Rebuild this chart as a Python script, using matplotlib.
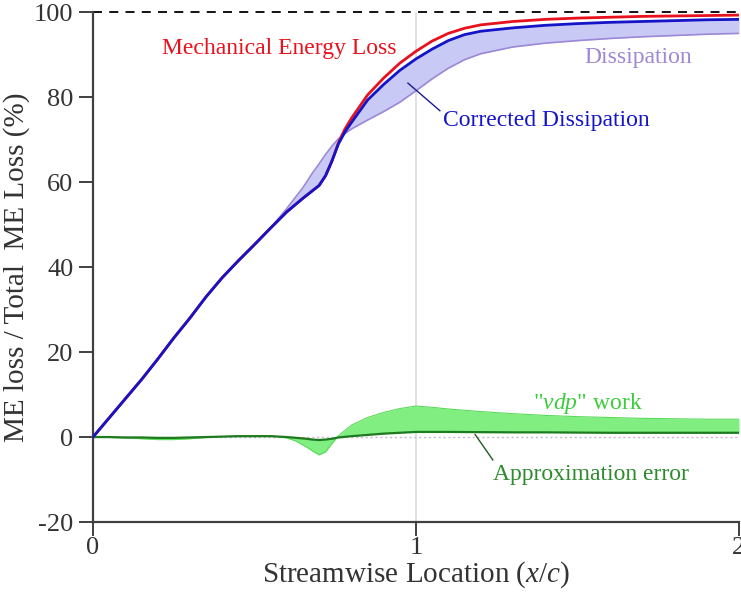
import numpy as np
import matplotlib
matplotlib.use("Agg")
import matplotlib.pyplot as plt

plt.rcParams["font.family"] = ["Liberation Serif", "DejaVu Serif"]
plt.rcParams["mathtext.fontset"] = "custom"
plt.rcParams["mathtext.it"] = "Liberation Serif:italic"
plt.rcParams["mathtext.rm"] = "Liberation Serif"
plt.rcParams["axes.unicode_minus"] = False

# 流れ方向位置 (x/c)
x_loss = [0, 0.05, 0.1, 0.15, 0.2, 0.25, 0.3, 0.35, 0.4, 0.45, 0.5, 0.55, 0.6,
          0.65, 0.68, 0.7, 0.72, 0.74, 0.76, 0.78, 0.8, 0.85, 0.9, 0.95, 1.0,
          1.05, 1.1, 1.15, 1.2, 1.3, 1.4, 1.5, 1.6, 1.7, 1.8, 1.9, 2.0]

# 力学的エネルギー損失 (%)
me_loss = [0, 4.5, 9, 13.5, 18.3, 23.3, 28, 33, 37.5, 41.5, 45.3, 49.2, 53,
           56.2, 58, 59.2, 61.5, 65, 69.3, 72.5, 75, 80.5, 84.5, 88, 90.8,
           93.2, 95, 96.2, 97, 97.8, 98.3, 98.6, 98.8, 99.0, 99.1, 99.2, 99.3]

# 補正後の散逸 (%)
corrected = [0, 4.5, 9, 13.5, 18.3, 23.3, 28, 33, 37.5, 41.5, 45.3, 49.2, 53,
             56.2, 58, 59.2, 61.5, 65, 69, 71.8, 74, 79.3, 83, 86.3, 89,
             91.3, 93.3, 94.7, 95.5, 96.3, 96.9, 97.3, 97.6, 97.8, 98.0, 98.2, 98.3]

# 散逸 (%)
dissipation = [0, 4.5, 9, 13.5, 18.3, 23.3, 28, 33, 37.5, 41.5, 45.3, 49.2, 53.8,
               58.7, 62.2, 64.3, 66.5, 68.5, 70.2, 71.4, 72.5, 74.6, 76.6, 78.8, 81.5,
               84.3, 86.8, 88.8, 90.2, 91.8, 92.7, 93.3, 93.8, 94.2, 94.5, 94.8, 95.0]

# vdp仕事と近似誤差
x_vdp = [0, 0.05, 0.1, 0.15, 0.2, 0.25, 0.3, 0.35, 0.4, 0.45, 0.5, 0.55, 0.6,
         0.63, 0.66, 0.68, 0.7, 0.72, 0.74, 0.76, 0.8, 0.85, 0.9, 0.95, 1.0,
         1.05, 1.1, 1.2, 1.3, 1.4, 1.5, 1.6, 1.7, 1.8, 1.9, 2.0]
vdp_work = [0, -0.1, -0.2, -0.4, -0.6, -0.6, -0.4, -0.1, 0.1, 0.2, 0.3, 0.3, -0.2,
            -1.0, -2.3, -3.3, -4.2, -3.5, -1.5, 0.3, 2.8, 4.6, 5.8, 6.7, 7.3,
            7.0, 6.6, 6.0, 5.5, 5.1, 4.8, 4.6, 4.4, 4.3, 4.2, 4.2]
approx_err = [0, 0, -0.1, -0.1, -0.2, -0.2, -0.1, 0, 0.1, 0.2, 0.2, 0.2, 0.0,
              -0.2, -0.4, -0.6, -0.7, -0.6, -0.4, -0.1, 0.2, 0.5, 0.8, 1.0, 1.2,
              1.2, 1.2, 1.15, 1.1, 1.1, 1.05, 1.0, 1.0, 1.0, 1.0, 1.0]

fig = plt.figure(figsize=(7.41, 6.07), dpi=100)
ax = fig.add_axes([0.1255, 0.140, 0.8718, 0.840])

# 補助線
ax.axvline(1.0, color="#dcdcdc", lw=1.2, zorder=0)
ax.axhline(0, color="#c8b8c8", lw=1.0, ls=(0, (1.5, 2)), zorder=0)
ax.axhline(100, color="black", lw=1.3, ls=(0, (5, 4)), zorder=1, clip_on=False)

# 散逸の帯
ax.fill_between(x_loss, corrected, dissipation, color="#c9c9f5", lw=0, zorder=2)
ax.plot(x_loss, dissipation, color="#9c88d6", lw=1.2, zorder=3)
ax.plot(x_loss, me_loss, color="#e8121e", lw=2.0, zorder=4)
ax.plot(x_loss, corrected, color="#1414c8", lw=2.0, zorder=5)

# vdp仕事の帯
ax.fill_between(x_vdp, approx_err, vdp_work, color="#80ee80", lw=0, zorder=2)
ax.plot(x_vdp, vdp_work, color="#5ada5a", lw=0.8, zorder=3)
ax.plot(x_vdp, approx_err, color="#1e7a1e", lw=1.6, zorder=4)

# ラベル
fs = 17
ax.text(0.215, 91.5, "Mechanical Energy Loss", color="#e8121e", fontsize=fs, va="center")
ax.text(1.52, 89.4, "Dissipation", color="#9c88d6", fontsize=fs, va="center")
ax.text(1.084, 74.6, "Corrected Dissipation", color="#1414c8", fontsize=fs, va="center")
ax.plot([0.975, 1.074], [83.3, 76.8], color="#1a1a8a", lw=1.0, zorder=6)
ax.text(1.532, 8.0, '"$vdp$" work', color="#3ccc3c", fontsize=fs, va="center", ha="center")
ax.text(1.238, -8.9, "Approximation error", color="#2e8b2e", fontsize=fs, va="center")
ax.plot([1.183, 1.238], [0.6, -5.4], color="#1e5a1e", lw=1.0, zorder=6)

ax.set_xlim(0, 2)
ax.set_ylim(-20, 100)
ax.set_xticks([0, 1, 2])
ax.set_yticks(np.arange(-20, 101, 20))
ax.spines["top"].set_visible(False)
ax.spines["right"].set_visible(False)
for s in ["left", "bottom"]:
    ax.spines[s].set_color("#404040")
    ax.spines[s].set_linewidth(1.6)
ax.tick_params(direction="out", length=10, width=1.4, color="#404040",
               labelsize=19, labelcolor="#333333")
ax.tick_params(axis="y", pad=4)
ax.tick_params(axis="x", pad=1)
ax.set_xlabel("Streamwise Location ($x/c$)", fontsize=21, color="#333333", labelpad=0)
ax.set_ylabel("ME loss / Total  ME Loss (%)", fontsize=21, color="#333333", labelpad=3)

fig.savefig("out.png", dpi=100)
